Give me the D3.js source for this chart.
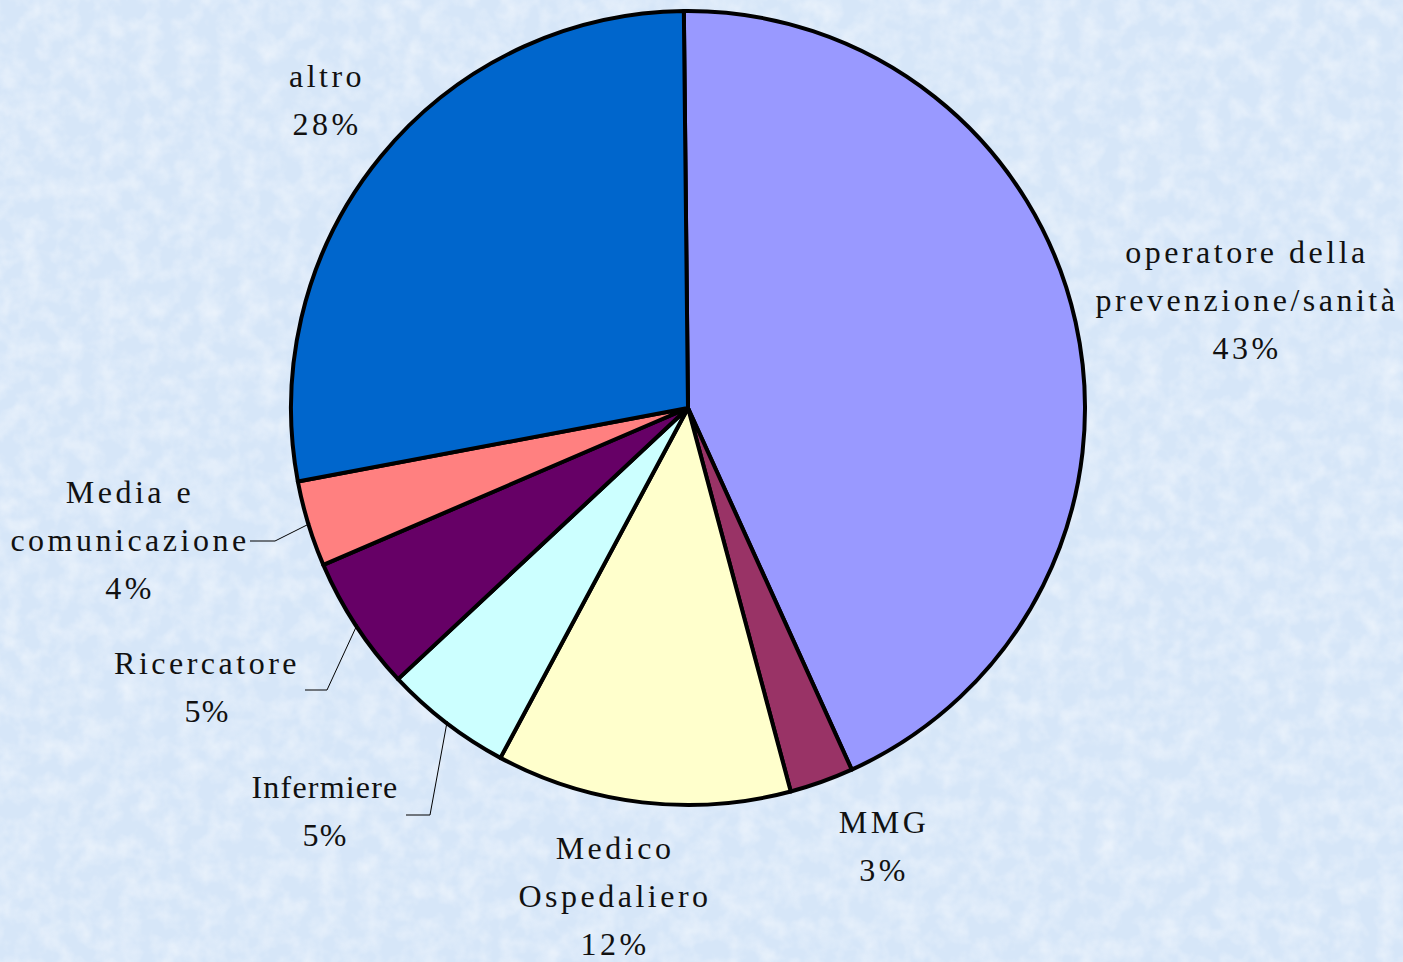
<!DOCTYPE html>
<html lang="it">
<head>
    <meta charset="UTF-8">
    <title>Professione</title>
    <script src="https://cdn.jsdelivr.net/npm/d3@7"></script>
    <style>
        html, body {
            margin: 0;
            padding: 0;
            overflow: hidden;
        }

        svg {
            display: block;
        }

        text {
            font-family: "Liberation Serif", "Times New Roman", serif;
            font-size: 32px;
            fill: #111111;
            letter-spacing: 3.5px;
        }

        tspan.stretto {
            letter-spacing: 1.2px;
        }
    </style>
</head>
<body>
<svg id="chart" width="1403" height="962"></svg>

<script>

    // dati (percentuali)
    var categorie = ['operatore della prevenzione/sanità', 'MMG', 'Medico Ospedaliero',
        'Infermiere', 'Ricercatore', 'Media e comunicazione', 'altro'];
    var valori = [43.4, 2.6, 12.0, 5.2, 5.5, 3.5, 27.8];
    var etichette = ['43%', '3%', '12%', '5%', '5%', '4%', '28%'];
    var righe = [
        ['operatore della', 'prevenzione/sanità'],
        ['MMG'],
        ['Medico', 'Ospedaliero'],
        ['Infermiere'],
        ['Ricercatore'],
        ['Media e', 'comunicazione'],
        ['altro']
    ];
    var colori = ['#9999FF', '#993366', '#FFFFCC', '#CCFFFF', '#660066', '#FF8080', '#0066CC'];

    // layout delle etichette (centro del blocco di testo, rispetto al centro della torta)
    var posEtichette = [
        [559, -108], [196, 438], [-73, 488], [-363, 403], [-481, 279], [-558, 132], [-361, -308]
    ];
    // linee guida: [gomito x, gomito y, fine x] rispetto al centro, null = nessuna linea
    var guide = [null, null, null, [-258, 407, -282], [-361, 282, -383], [-413, 133, -438], null];
    // righe con spaziatura stretta come nell'originale
    var stretti = ['Infermiere', '5%'];

    var W = 1403, H = 962;
    var cx = 688, cy = 408, r = 397;
    var lh = 48;

    var svg = d3.select('#chart');
    var defs = svg.append('defs');

    // sfondo carta blu
    var f = defs.append('filter').attr('id', 'carta')
        .attr('x', 0).attr('y', 0).attr('width', '100%').attr('height', '100%');
    f.append('feTurbulence')
        .attr('type', 'fractalNoise')
        .attr('baseFrequency', 0.05)
        .attr('numOctaves', 3)
        .attr('seed', 4)
        .attr('result', 'noise');
    f.append('feColorMatrix')
        .attr('in', 'noise')
        .attr('type', 'matrix')
        .attr('values', '0 0 0 0 1  0 0 0 0 1  0 0 0 0 1  0 0 0 1.4 -0.5');

    svg.append('rect')
        .attr('width', W).attr('height', H)
        .attr('fill', '#d6e6f8');
    svg.append('rect')
        .attr('width', W).attr('height', H)
        .attr('filter', 'url(#carta)')
        .attr('opacity', 0.6);

    var pie = d3.pie()
        .sort(null)
        .value(function (d) { return d; })
        .startAngle(-0.6 * Math.PI / 180)
        .endAngle(2 * Math.PI - 0.6 * Math.PI / 180);

    var arc = d3.arc().innerRadius(0).outerRadius(r);
    var archi = pie(valori);

    var g = svg.append('g')
        .attr('transform', 'translate(' + cx + ',' + cy + ')');

    g.selectAll('path.fetta')
        .data(archi)
        .enter()
        .append('path')
        .attr('class', 'fetta')
        .attr('d', arc)
        .attr('fill', function (d, i) { return colori[i]; })
        .attr('stroke', '#000')
        .attr('stroke-width', 4)
        .attr('stroke-linejoin', 'round');

    // linee guida
    archi.forEach(function (d, i) {
        var gd = guide[i];
        if (!gd) return;
        var a = (d.startAngle + d.endAngle) / 2;
        var px = (r - 2) * Math.sin(a), py = -(r - 2) * Math.cos(a);
        g.append('polyline')
            .attr('points', [[px, py], [gd[0], gd[1]], [gd[2], gd[1]]].map(function (p) {
                return p.join(',');
            }).join(' '))
            .attr('fill', 'none')
            .attr('stroke', '#000')
            .attr('stroke-width', 1);
    });

    // etichette
    archi.forEach(function (d, i) {
        var lines = righe[i].concat([etichette[i]]);
        var p = posEtichette[i];
        var y0 = p[1] - (lines.length - 1) * lh / 2;
        var t = g.append('text')
            .attr('text-anchor', 'middle')
            .attr('dominant-baseline', 'central');
        lines.forEach(function (s, k) {
            t.append('tspan')
                .attr('class', stretti.indexOf(s) >= 0 ? 'stretto' : null)
                .attr('x', p[0])
                .attr('y', y0 + k * lh)
                .text(s);
        });
    });

</script>
</body>
</html>
